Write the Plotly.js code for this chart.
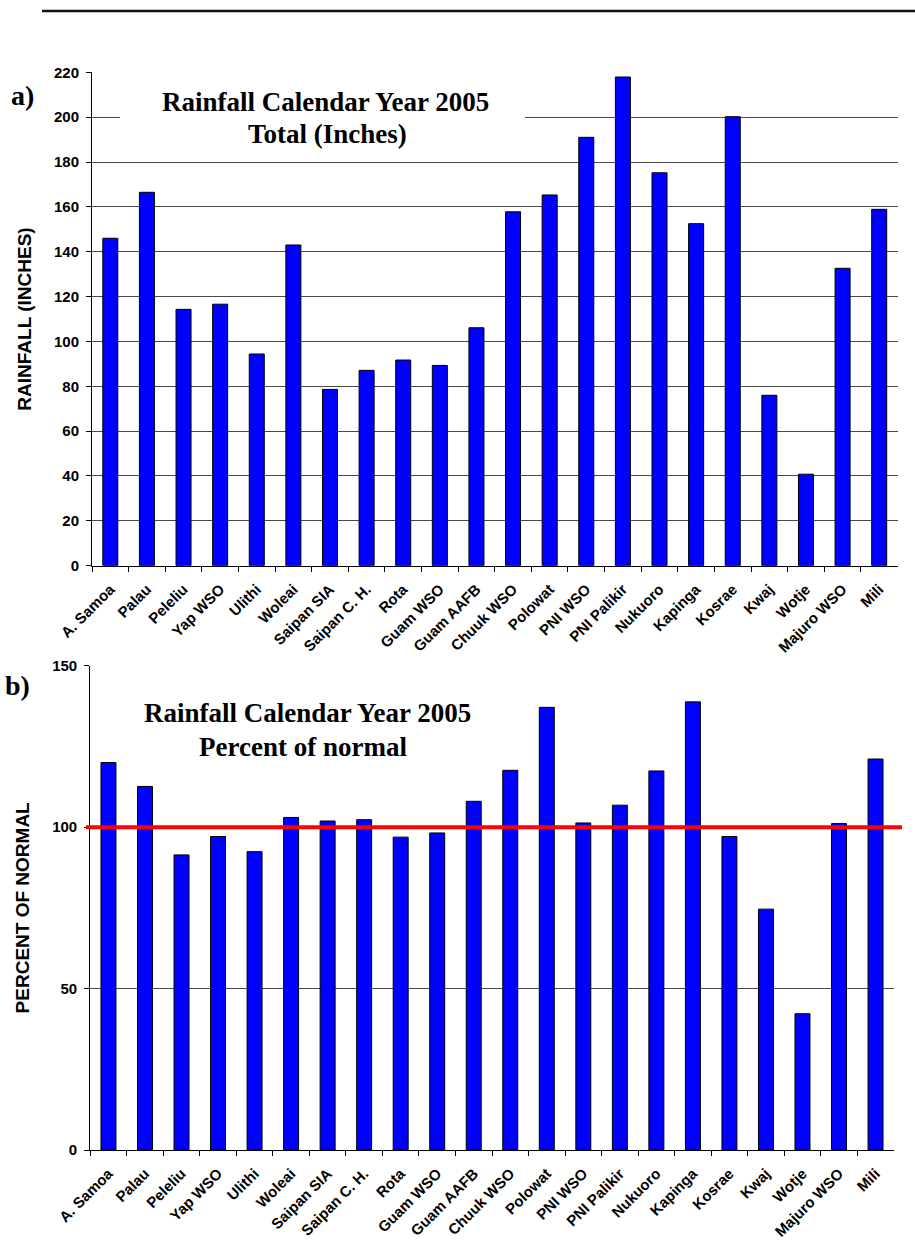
<!DOCTYPE html>
<html>
<head>
<meta charset="utf-8">
<script src="https://cdn.plot.ly/plotly-3.0.1.min.js"></script>
<style>
  html, body { margin: 0; padding: 0; background: #ffffff; }
  #chart { width: 915px; height: 1242px; }
</style>
</head>
<body>
<div id="chart"></div>
<script>
// ---- Data ----
const stations = ["A. Samoa", "Palau", "Peleliu", "Yap WSO", "Ulithi", "Woleai", "Saipan SIA",
  "Saipan C. H.", "Rota", "Guam WSO", "Guam AAFB", "Chuuk WSO", "Polowat", "PNI WSO",
  "PNI Palikir", "Nukuoro", "Kapinga", "Kosrae", "Kwaj", "Wotje", "Majuro WSO", "Mili"];
const totalInches = [146.0, 166.5, 114.3, 116.6, 94.4, 143.0, 78.6, 87.1, 91.7, 89.3, 106.1,
  157.8, 165.3, 191.0, 217.9, 175.2, 152.5, 200.2, 76.0, 40.8, 132.6, 158.9];
const percentNormal = [120.0, 112.6, 91.4, 97.1, 92.4, 103.0, 101.9, 102.3, 96.9, 98.2, 108.0,
  117.6, 137.1, 101.3, 106.8, 117.4, 138.8, 97.1, 74.6, 42.2, 101.1, 121.1];
const normalLine = 100;
const titleA = ["Rainfall Calendar Year 2005", "Total (Inches)"];
const titleB = ["Rainfall Calendar Year 2005", "Percent of normal"];

// ---- Styling ----
const W = 915, H = 1242;
const px = x => x / W;
const py = y => 1 - y / H;
const sans = "Arial, 'Liberation Sans', sans-serif";
const serif = "'Times New Roman', 'Liberation Serif', serif";
const tickFont = { family: sans, size: 15, color: "#000", weight: "bold" };
const xTickFont = { family: sans, size: 15, color: "#000", weight: "bold" };
const axTitleFont = { family: sans, size: 19, color: "#000", weight: "bold" };
const titleFont = { family: serif, size: 27, color: "#000", weight: "bold" };

const barStyle = { color: "#0000FF", line: { color: "#000000", width: 1 } };

const traces = [
  { type: "bar", x: stations, y: totalInches, xaxis: "x", yaxis: "y",
    marker: barStyle, width: 0.41, hoverinfo: "x+y" },
  { type: "bar", x: stations, y: percentNormal, xaxis: "x2", yaxis: "y2",
    marker: barStyle, width: 0.41, hoverinfo: "x+y" }
];

const xCommon = {
  type: "category",
  showgrid: false,
  showline: true, linecolor: "#000", linewidth: 1,
  ticks: "outside", ticklen: 5, tickcolor: "#000", tickwidth: 1,
  tickson: "boundaries",
  tickangle: -45,
  tickfont: xTickFont,
  ticklabelstandoff: 8,
  automargin: false,
  fixedrange: true
};

const yCommon = {
  showgrid: true, gridcolor: "#4a4a4a", gridwidth: 1,
  zeroline: false,
  showline: true, linecolor: "#000", linewidth: 1,
  ticks: "outside", ticklen: 5, tickcolor: "#000",
  tickfont: tickFont,
  ticklabelstandoff: 4,
  automargin: false, fixedrange: true
};

function lineAnn(text, x, y, font) {
  return { xref: "paper", yref: "paper", x: px(x), y: py(y), xanchor: "center", yanchor: "middle",
    text: text, showarrow: false, font: font };
}

const layout = {
  width: W, height: H,
  margin: { l: 0, r: 0, t: 0, b: 0 },
  paper_bgcolor: "#ffffff", plot_bgcolor: "#ffffff",
  showlegend: false,
  bargap: 0.59,
  xaxis: Object.assign({}, xCommon, { domain: [px(92), px(897.5)], anchor: "y" }),
  yaxis: Object.assign({}, yCommon, {
    domain: [py(565.7), py(72.3)], anchor: "x",
    range: [0, 220], dtick: 20, tick0: 0,
    title: { text: "RAINFALL (INCHES)", font: axTitleFont, standoff: 17 }
  }),
  xaxis2: Object.assign({}, xCommon, { domain: [px(90.2), px(893.8)], anchor: "y2" }),
  yaxis2: Object.assign({}, yCommon, {
    domain: [py(1150), py(665.7)], anchor: "x2",
    range: [0, 150], dtick: 50, tick0: 0,
    title: { text: "PERCENT OF NORMAL", font: axTitleFont, standoff: 17 }
  }),
  shapes: [
    // rule across top of page
    { type: "line", xref: "paper", yref: "paper", x0: px(42), x1: 1, y0: py(11), y1: py(11),
      line: { color: "#111", width: 2.5 } },
    // white box behind the top title (hides the 200 grid line)
    { type: "rect", xref: "paper", yref: "paper", layer: "above",
      x0: px(120), x1: px(525), y0: py(150), y1: py(84),
      fillcolor: "#ffffff", line: { width: 0 } },
    // normal (100%) line
    { type: "line", xref: "paper", yref: "y2", x0: px(86), x1: px(902), y0: normalLine, y1: normalLine,
      line: { color: "#FF0000", width: 4 } }
  ],
  annotations: [
    lineAnn(titleA[0], 325.5, 101.7, titleFont),
    lineAnn(titleA[1], 327, 134, titleFont),
    lineAnn(titleB[0], 307, 713.3, titleFont),
    lineAnn(titleB[1], 303, 746.7, titleFont),
    lineAnn("a)", 22, 95, { family: serif, size: 28, color: "#000", weight: "bold" }),
    lineAnn("b)", 17, 685, { family: serif, size: 28, color: "#000", weight: "bold" })
  ]
};

Plotly.newPlot("chart", traces, layout, { displayModeBar: false, staticPlot: true });
</script>
</body>
</html>
